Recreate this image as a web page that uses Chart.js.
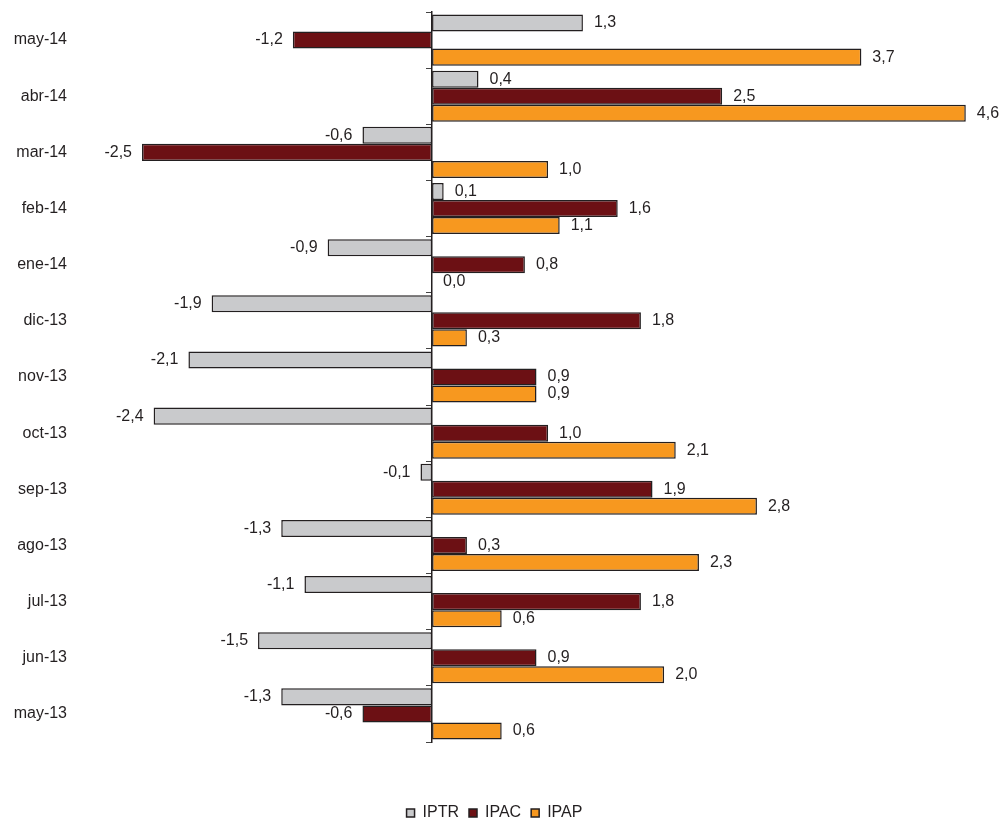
<!DOCTYPE html>
<html>
<head>
<meta charset="utf-8">
<script src="https://cdn.jsdelivr.net/npm/chart.js@4.4.1/dist/chart.umd.min.js"></script>
<style>
  html, body { margin: 0; padding: 0; background: #ffffff; }
  #wrap { width: 1000px; height: 826px; position: relative; }
</style>
</head>
<body>
<div id="wrap"><canvas id="c"></canvas></div>
<script>
const categories = ['may-14','abr-14','mar-14','feb-14','ene-14','dic-13','nov-13','oct-13','sep-13','ago-13','jul-13','jun-13','may-13'];
const iptr = [1.3, 0.4, -0.6, 0.1, -0.9, -1.9, -2.1, -2.4, -0.1, -1.3, -1.1, -1.5, -1.3];
const ipac = [-1.2, 2.5, -2.5, 1.6, 0.8, 1.8, 0.9, 1.0, 1.9, 0.3, 1.8, 0.9, -0.6];
const ipap = [3.7, 4.6, 1.0, 1.1, 0.0, 0.3, 0.9, 2.1, 2.8, 2.3, 0.6, 2.0, 0.6];
const seriesNames = ['IPTR', 'IPAC', 'IPAP'];

const FONT = "'Liberation Sans', Arial, sans-serif";
const TEXT = '#231f20';

const valueLabels = {
  id: 'valueLabels',
  afterDatasetsDraw(chart) {
    const ctx = chart.ctx;
    ctx.save();
    ctx.font = '16px ' + FONT;
    ctx.fillStyle = TEXT;
    ctx.textBaseline = 'middle';
    chart.data.datasets.forEach((ds, di) => {
      const meta = chart.getDatasetMeta(di);
      meta.data.forEach((el, i) => {
        const v = ds.data[i];
        const txt = v.toFixed(1).replace('.', ',');
        if (v < 0) {
          ctx.textAlign = 'right';
          ctx.fillText(txt, el.x - 10, el.y);
        } else {
          ctx.textAlign = 'left';
          ctx.fillText(txt, el.x + 11, el.y);
        }
      });
    });
    ctx.restore();
  }
};

const common = { borderColor: '#231f20', borderWidth: 1.5, borderSkipped: false, categoryPercentage: 0.91, barPercentage: 1.0 };

new Chart(document.getElementById('c'), {
  type: 'bar',
  data: {
    labels: categories,
    datasets: [
      Object.assign({ label: seriesNames[0], data: iptr, backgroundColor: '#c9cacc' }, common),
      Object.assign({ label: seriesNames[1], data: ipac, backgroundColor: '#6c1014' }, common),
      Object.assign({ label: seriesNames[2], data: ipap, backgroundColor: '#f7981f' }, common)
    ]
  },
  options: {
    indexAxis: 'y',
    responsive: true,
    maintainAspectRatio: false,
    animation: false,
    layout: { padding: { top: 12, right: 11, left: 0, bottom: -5 } },
    scales: {
      x: {
        min: -3, max: 4.8,
        display: true,
        grid: { display: false },
        border: { display: false },
        ticks: { display: false },
        afterFit: (s) => { s.height = 53; }
      },
      y: {
        position: 'left',
        grid: { display: false },
        border: { display: false },
        ticks: { color: TEXT, font: { family: FONT, size: 16 }, padding: 9 },
        afterFit: (s) => { s.width = 84; s.paddingTop = 0; s.paddingBottom = 0; }
      },
      yZero: {
        axis: 'y',
        type: 'category',
        labels: categories,
        offset: true,
        position: { x: 0 },
        grid: { display: true, drawOnChartArea: false, drawTicks: true, tickLength: 5, offset: true, color: '#444', lineWidth: 1 },
        border: { display: true, color: '#231f20', width: 1.5 },
        ticks: { display: false },
        afterFit: (s) => { s.paddingTop = 0; s.paddingBottom = 0; }
      }
    },
    plugins: {
      legend: {
        position: 'bottom',
        labels: {
          color: TEXT,
          font: { family: FONT, size: 16 },
          boxWidth: 8,
          boxHeight: 8,
          padding: 10
        }
      },
      tooltip: { enabled: false }
    }
  },
  plugins: [valueLabels]
});
</script>
</body>
</html>
